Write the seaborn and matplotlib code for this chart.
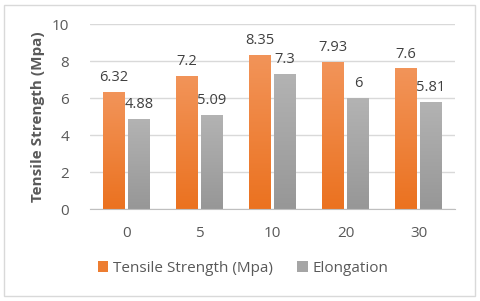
import matplotlib.pyplot as plt
import seaborn as sns
import numpy as np
import pandas as pd
from matplotlib.patches import Rectangle
from matplotlib.colors import LinearSegmentedColormap

# data
categories = ["0", "5", "10", "20", "30"]
tensile = [6.32, 7.2, 8.35, 7.93, 7.6]
elongation = [4.88, 5.09, 7.3, 6, 5.81]
series_names = ["Tensile Strength (Mpa)", "Elongation"]

df = pd.DataFrame({
    "cat": categories * 2,
    "value": tensile + elongation,
    "series": [series_names[0]] * len(categories) + [series_names[1]] * len(categories),
})

sns.set_style("white")
plt.rcParams['font.family'] = ['Open Sans', 'DejaVu Sans']

fig = plt.figure(figsize=(4.8, 3.01), dpi=100)
ax = fig.add_axes([0.1875, 0.3056, 0.7605, 0.6144])

palette = {series_names[0]: "#ED7D31", series_names[1]: "#A5A5A5"}
sns.barplot(data=df, x="cat", y="value", hue="series", palette=palette,
            width=0.68, gap=0.12, ax=ax, saturation=1, legend=True, linewidth=0)

# light vertical gradient on the bars, like the Excel fill
grads = [("#F29459", "#EB7220"), ("#B3B3B3", "#979797")]
for cont, (top, bottom) in zip(ax.containers, grads):
    cmap = LinearSegmentedColormap.from_list("g", [bottom, top])
    for p in cont.patches:
        x0, y0 = p.get_x(), p.get_y()
        w, h = p.get_width(), p.get_height()
        im = ax.imshow(np.linspace(0, 1, 64).reshape(-1, 1), cmap=cmap, aspect="auto",
                       origin="lower", extent=(x0, x0 + w, y0, y0 + h), zorder=p.get_zorder())
        im.set_clip_path(p)

# data labels
for cont in ax.containers:
    labels = [("%g" % v) for v in cont.datavalues]
    ax.bar_label(cont, labels=labels, padding=5, fontsize=10.5, color="#404040")

ax.set_ylim(0, 10)
ax.set_xlim(-0.5, 4.5)
ax.set_yticks([0, 2, 4, 6, 8, 10])
ax.yaxis.grid(True, color="#D9D9D9", linewidth=1)
ax.set_axisbelow(True)

for s in ["top", "right", "left"]:
    ax.spines[s].set_visible(False)
ax.spines["bottom"].set_color("#BFBFBF")

ax.set_xticks(range(len(categories)))
ax.set_xticks([i - 0.5 for i in range(len(categories) + 1)], minor=True)
ax.tick_params(axis="x", which="major", length=0, pad=12, labelsize=11, labelcolor="#595959")
ax.tick_params(axis="x", which="minor", length=5, color="#BFBFBF")
ax.tick_params(axis="y", length=0, pad=15, labelsize=11, labelcolor="#595959")

ax.set_xlabel("")
ax.set_ylabel("Tensile Strength (Mpa)", fontsize=11, fontweight="bold", color="#595959", labelpad=5)

leg = ax.legend(loc="center", bbox_to_anchor=(243 / 480, 1 - 268 / 301), bbox_transform=fig.transFigure,
                ncol=2, frameon=False, fontsize=11, handlelength=0.7, handleheight=0.7,
                handletextpad=0.3, columnspacing=1.6)
for t in leg.get_texts():
    t.set_color("#595959")

# outer chart border
fig.patches.append(Rectangle((4 / 480, 5 / 301), 471 / 480, 291 / 301, transform=fig.transFigure,
                             fill=False, edgecolor="#D9D9D9", linewidth=1))

fig.savefig("out.png", dpi=100)
